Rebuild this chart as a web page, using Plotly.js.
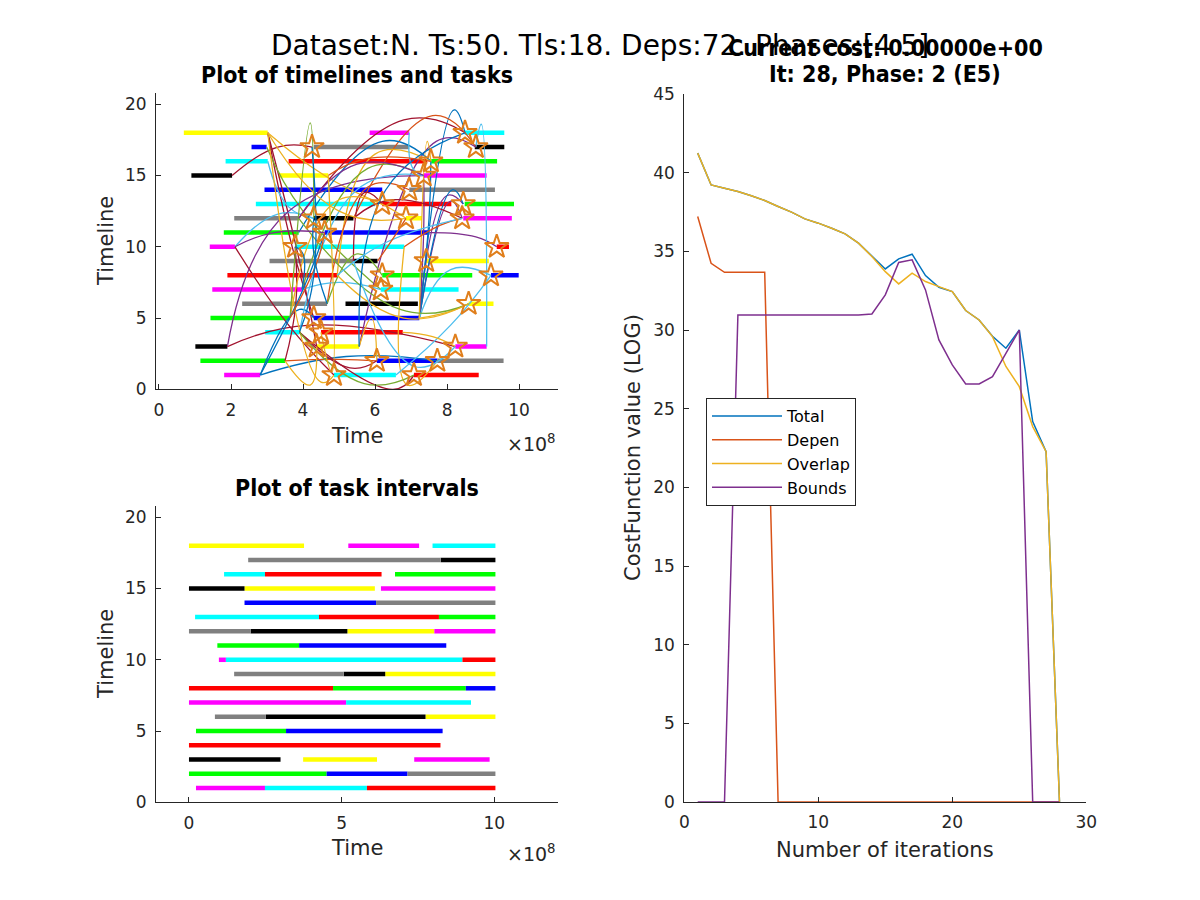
<!DOCTYPE html>
<html>
<head>
<meta charset="utf-8">
<script src="https://cdn.plot.ly/plotly-3.0.1.min.js"></script>
<style>
  html, body { margin: 0; padding: 0; background: #fff; }
  #fig { width: 1200px; height: 900px; }
</style>
</head>
<body>
<div id="fig"></div>
<script>
// colour letters used by the task bars
const barColours = {
  y: "#FFFF00", m: "#FF00FF", c: "#00FFFF", r: "#FF0000",
  g: "#00FF00", b: "#0000FF", k: "#000000", e: "#808080"
};
// MATLAB default line colours for the dependency curves
const depColours = ["#0072BD", "#D95319", "#EDB120", "#7E2F8E", "#77AC30", "#4DBEEE", "#A2142F"];

// ---- top left: timelines and tasks (time in units of 1e8) ----
const tlRow = [18,18,18, 17,17,17, 16,16,16, 15,15,15, 14,14, 13,13,13, 12,12,12,12,
               11,11, 10,10,10, 9,9,9, 8,8,8, 7,7, 6,6,6, 5,5, 4,4, 3,3,3, 2,2,2, 1,1,1];
const tlStart = [0.69,5.85,8.49, 2.57,4.30,8.77, 1.85,3.60,7.56, 0.90,3.32,7.35, 2.93,6.95,
                 2.69,6.20,8.49, 2.09,4.30,6.86,8.45, 1.80,4.60, 1.41,3.78,9.38,
                 3.07,5.42,7.42, 1.90,6.20,9.22, 1.48,6.16, 2.31,5.18,8.60, 1.43,4.30,
                 2.95,4.50, 1.01,4.38,8.23, 1.15,6.05,7.73, 1.81,4.86,7.08];
const tlEnd = [3.02,6.95,9.59, 2.99,6.95,9.59, 3.02,7.45,9.39, 2.03,4.70,9.10, 6.20,9.33,
               6.00,8.12,9.86, 3.88,5.40,7.30,9.80, 3.88,7.51, 2.11,6.81,9.72,
               5.40,6.07,9.16, 4.95,8.70,9.99, 3.97,8.32, 4.67,7.19,9.29, 3.64,7.23,
               3.90,6.77, 1.90,5.56,9.10, 3.50,7.73,9.57, 2.81,6.58,8.88];
const tlCol = ["y","m","c", "b","e","k", "c","r","g", "k","y","m", "b","e",
               "c","r","g", "e","k","y","m", "g","b", "m","c","r",
               "e","k","y", "r","g","b", "m","c", "e","k","y", "g","b",
               "c","r", "k","y","m", "g","b","e", "m","c","r"];

// dependency curves: from predecessor end, through a bend point, to successor start
const depX0 = [2.03,3.02,3.02,3.02,2.99,3.02,2.11,2.11,1.90,1.90,2.81,2.81,3.50,3.50,
               7.23,7.23,7.23,7.23,7.23,7.23,7.23,7.51,7.23,9.10,3.88,5.40,5.56,3.88,
               4.95,3.97,3.90,4.67,5.40,3.64,3.97,4.67,5.56,3.90,3.02,6.81,3.64,7.23,
               6.95,2.81,6.81,5.40,6.58,6.77,3.90,3.88,4.95,5.40,3.90,3.02,3.97,2.11,
               3.64,4.67,3.90,5.56,4.70,3.88,4.95,6.07,3.50,4.70];
const depY0 = [15,18,18,18,17,16,10,10,3,3,1,1,2,2,
               5,5,5,5,5,5,5,11,5,3,12,12,3,11,
               8,7,4,6,9,5,7,6,3,4,18,10,5,5,
               18,1,10,12,1,4,4,12,8,9,4,18,7,10,
               5,6,4,3,15,12,8,9,2,15];
const depXm = [3.30,3.70,4.60,3.90,4.00,3.60,3.30,3.60,3.60,4.20,3.90,5.20,5.00,3.80,
               8.20,8.00,8.10,8.15,8.00,7.50,7.35,8.80,8.10,8.95,6.80,7.60,7.70,6.20,
               6.00,5.80,5.50,5.80,5.70,5.00,5.00,5.50,5.90,6.50,4.50,6.90,4.20,7.45,
               7.05,4.00,7.80,6.50,8.10,7.60,5.30,6.70,6.80,7.10,5.70,5.00,4.00,3.20,
               4.40,4.30,4.30,6.30,5.80,5.50,6.30,6.40,4.20,4.80];
const depYm = [17.0,10.0,15.0,9.0,12.5,12.8,12.3,4.5,12.5,4.5,5.6,2.3,2.1,6.0,
               19.6,13.6,13.2,14.0,5.4,12.0,11.0,10.7,8.4,18.6,18.9,19.2,17.4,17.4,
               16.5,15.5,14.0,14.2,13.8,13.3,7.5,9.5,5.0,0.0,0.5,0.3,18.7,17.4,
               15.5,7.0,11.5,13.3,4.5,3.7,1.5,5.6,5.0,1.6,0.4,12.5,9.5,11.0,
               9.0,9.5,8.0,14.0,16.2,15.8,10.3,10.2,0.3,1.2];
const depX1 = [4.25,4.30,6.20,4.38,6.16,4.30,4.30,4.86,7.35,8.23,4.30,7.73,6.05,3.78,
               8.50,8.45,8.42,8.45,8.60,7.55,7.35,9.38,9.22,8.80,8.50,8.80,8.80,7.55,
               7.55,7.35,7.35,6.95,6.20,6.86,6.16,6.20,6.05,7.08,4.86,7.73,4.30,7.55,
               7.35,4.60,8.42,8.42,9.22,8.23,6.05,8.60,8.60,8.23,7.08,6.86,3.78,4.60,
               4.60,4.30,4.25,8.50,7.55,7.35,8.42,6.86,4.38,4.50];
const depY1 = [17,5,13,3,7,12,12,1,15,3,5,2,2,10,
               18,13,12,13,6,16,15,10,8,17,18,17,17,16,
               16,15,15,14,13,12,7,8,2,1,1,2,12,16,
               15,11,12,12,8,3,2,6,6,3,1,12,10,11,
               11,12,17,18,16,15,12,12,3,4];
const depCol = [6,6,2,6,4,5,5,6,3,6,0,0,1,6,
                0,3,3,0,2,0,3,3,5,5,6,1,3,0,
                2,4,5,1,6,2,5,4,2,6,2,2,4,2,
                5,0,1,6,5,2,6,4,2,5,4,2,0,3,
                1,0,0,0,1,3,5,1,2,2];

// stars at the successor task starts
const starX = [4.25,8.50,8.80,7.55,7.35,6.95,6.20,8.45,6.86,8.42,4.30,4.60,3.78,9.38,
               7.42,6.20,9.22,6.16,8.60,4.30,4.50,4.38,8.23,6.05,7.73,4.86,7.08];
const starY = [17,18,17,16,15,14,13,13,12,12,12,11,10,10,
               9,8,8,7,6,5,4,3,3,2,2,1,1];

// ---- bottom left: task intervals ----
const ivRow = [18,18,18, 17,17, 16,16,16, 15,15,15, 14,14, 13,13,13, 12,12,12,12,
               11,11, 10,10,10, 9,9,9, 8,8,8, 7,7, 6,6,6, 5,5, 4, 3,3,3, 2,2,2, 1,1,1];
const ivStart = [0,5.22,7.98, 1.94,8.25, 1.15,2.49,6.75, 0,1.82,6.29, 1.82,6.13,
                 0.20,4.26,8.19, 0,2.02,5.19,8.04, 0.93,3.61, 0.98,1.21,8.96,
                 1.48,5.07,6.43, 0,4.72,9.07, 0,5.15, 0.85,2.52,7.75, 0.23,3.18,
                 0, 0,3.74,7.38, 0,4.51,7.16, 0.23,2.49,5.83];
const ivEnd = [3.77,7.54,10.04, 8.25,10.04, 2.49,6.31,10.04, 1.82,6.09,10.04, 6.13,10.04,
               4.26,8.19,10.04, 2.02,5.19,8.04,10.04, 3.61,8.43, 1.21,8.96,10.04,
               5.07,6.43,10.04, 4.72,9.07,10.04, 5.15,9.24, 2.52,7.75,10.04, 3.18,8.31,
               8.24, 3.00,6.16,9.85, 4.51,7.16,10.04, 2.49,5.83,10.04];
const ivCol = ["y","m","c", "e","k", "c","r","g", "k","y","m", "b","e",
               "c","r","g", "e","k","y","m", "g","b", "m","c","r",
               "e","k","y", "r","g","b", "m","c", "e","k","y", "g","b",
               "r", "k","y","m", "g","b","e", "m","c","r"];

// ---- right: cost function per iteration ----
const iterations = [1,2,3,4,5,6,7,8,9,10,11,12,13,14,15,16,17,18,19,20,21,22,23,24,25,26,27,28];
const costTotal = [41.24,39.22,39.01,38.80,38.53,38.23,37.85,37.49,37.06,36.79,36.47,36.11,35.52,34.67,
                   33.88,34.52,34.82,33.46,32.72,32.44,31.24,30.64,29.60,28.84,30.00,24.18,22.27,0];
const costDepen = [37.21,34.24,33.67,33.67,33.67,33.67,0,0,0,0,0,0,0,0,
                   0,0,0,0,0,0,0,0,0,0,0,0,0,0];
const costOverlap = [41.24,39.22,39.01,38.80,38.53,38.23,37.85,37.49,37.06,36.79,36.47,36.11,35.52,34.67,
                     33.71,32.93,33.61,33.08,32.76,32.44,31.24,30.64,29.58,27.68,26.40,23.86,22.27,0];
const costBounds = [0,0,0,30.96,30.96,30.96,30.96,30.96,30.96,30.96,30.96,30.96,30.96,31.02,
                    32.23,34.29,34.46,32.55,29.37,27.78,26.57,26.57,27.04,28.52,30.00,0,0,0];

const FONT = "DejaVu Sans, Liberation Sans, sans-serif";
const COND = "DejaVu Sans Condensed, DejaVu Sans, sans-serif";
const INK = "#262626";

function barTraces(rows, starts, ends, cols, xa, ya) {
  const out = [];
  Object.keys(barColours).forEach(key => {
    const x = [], y = [];
    cols.forEach((c, i) => {
      if (c !== key) return;
      x.push(starts[i], ends[i], null);
      y.push(rows[i], rows[i], null);
    });
    if (x.length) {
      out.push({
        x: x, y: y, xaxis: xa, yaxis: ya,
        mode: "lines", showlegend: false, hoverinfo: "skip",
        line: { color: barColours[key], width: 4.5 }
      });
    }
  });
  return out;
}

const traces = [];

// timelines (top left)
barTraces(tlRow, tlStart, tlEnd, tlCol, "x", "y").forEach(t => traces.push(t));

// dependency curves
depX0.forEach((x0, i) => {
  traces.push({
    x: [x0, depXm[i], depX1[i]],
    y: [depY0[i], depYm[i], depY1[i]],
    xaxis: "x", yaxis: "y",
    mode: "lines", showlegend: false, hoverinfo: "skip",
    line: { color: depColours[depCol[i]], width: 1.3, shape: "spline", smoothing: 1.3 }
  });
});

// stars
traces.push({
  x: starX, y: starY, xaxis: "x", yaxis: "y",
  mode: "markers", showlegend: false, hoverinfo: "skip",
  marker: {
    symbol: "star-open", size: 18, color: "#E07F1C",
    line: { color: "#E07F1C", width: 2 }
  }
});

// task intervals (bottom left)
barTraces(ivRow, ivStart, ivEnd, ivCol, "x2", "y2").forEach(t => traces.push(t));

// cost curves (right)
const costSeries = [
  ["Total", costTotal, "#0072BD"],
  ["Depen", costDepen, "#D95319"],
  ["Overlap", costOverlap, "#EDB120"],
  ["Bounds", costBounds, "#7E2F8E"]
];
costSeries.forEach(s => {
  traces.push({
    x: iterations, y: s[1], xaxis: "x3", yaxis: "y3",
    mode: "lines", name: s[0],
    line: { color: s[2], width: 1.5 }
  });
});

function axisStyle(extra) {
  return Object.assign({
    showline: true, linecolor: INK, linewidth: 1,
    ticks: "inside", ticklen: 5, tickcolor: INK, tickwidth: 1,
    tickfont: { family: FONT, size: 17, color: INK },
    showgrid: false, zeroline: false, mirror: false,
    ticklabelstandoff: 5, fixedrange: true
  }, extra);
}

function note(text, x, y, size, opts) {
  return Object.assign({
    text: text, x: x / 1200, y: 1 - y / 900,
    xref: "paper", yref: "paper", showarrow: false,
    xanchor: "center", yanchor: "middle",
    font: { family: FONT, size: size, color: INK }
  }, opts || {});
}

const titleFont = { family: COND, size: 23, color: "#000000" };

const layout = {
  width: 1200, height: 900,
  margin: { l: 0, r: 0, t: 0, b: 0 },
  paper_bgcolor: "#ffffff", plot_bgcolor: "#ffffff",
  showlegend: true,
  legend: {
    x: 706 / 1200, y: 1 - 398 / 900, xanchor: "left", yanchor: "top",
    bgcolor: "#ffffff", bordercolor: INK, borderwidth: 1,
    font: { family: FONT, size: 16, color: "#000000" },
    tracegroupgap: 0, itemwidth: 70
  },
  xaxis: axisStyle({ domain: [156 / 1200, 558.3 / 1200], range: [-0.083, 11.09], tickvals: [0, 2, 4, 6, 8, 10], anchor: "y" }),
  yaxis: axisStyle({ domain: [1 - 389.3 / 900, 1 - 93.3 / 900], range: [0, 20.77], tickvals: [0, 5, 10, 15, 20], anchor: "x" }),
  xaxis2: axisStyle({ domain: [156 / 1200, 558.3 / 1200], range: [-1.08, 12.1], tickvals: [0, 5, 10], anchor: "y2" }),
  yaxis2: axisStyle({ domain: [1 - 802.3 / 900, 1 - 506.3 / 900], range: [0, 20.77], tickvals: [0, 5, 10, 15, 20], anchor: "x2" }),
  xaxis3: axisStyle({ domain: [684.3 / 1200, 1086.3 / 1200], range: [0, 30], tickvals: [0, 10, 20, 30], anchor: "y3" }),
  yaxis3: axisStyle({ domain: [1 - 802 / 900, 1 - 94 / 900], range: [0, 45], dtick: 5, anchor: "x3" }),
  annotations: [
    note("Dataset:N. Ts:50. Tls:18. Deps:72. Phases:[4 5]", 600, 45, 28, { font: { family: FONT, size: 28, color: "#000000" } }),
    note("<b>Current cost: 0.00000e+00</b>", 885, 48, 23, { font: titleFont }),
    note("<b>It: 28, Phase: 2 (E5)</b>", 885, 74, 23, { font: titleFont }),
    note("<b>Plot of timelines and tasks</b>", 357, 75, 23, { font: titleFont }),
    note("<b>Plot of task intervals</b>", 357, 488, 23, { font: titleFont }),
    note("Time", 357, 436, 21),
    note("Time", 357, 848, 21),
    note("Timeline", 106, 241, 21, { textangle: -90 }),
    note("Timeline", 106, 654, 21, { textangle: -90 }),
    note("×10<sup>8</sup>", 558, 443, 19, { xanchor: "right" }),
    note("×10<sup>8</sup>", 558, 853, 19, { xanchor: "right" }),
    note("Number of iterations", 885, 850, 21),
    note("CostFunction value (LOG)", 633, 448, 21, { textangle: -90 })
  ]
};

Plotly.newPlot("fig", traces, layout, { staticPlot: true, displayModeBar: false });
</script>
</body>
</html>
